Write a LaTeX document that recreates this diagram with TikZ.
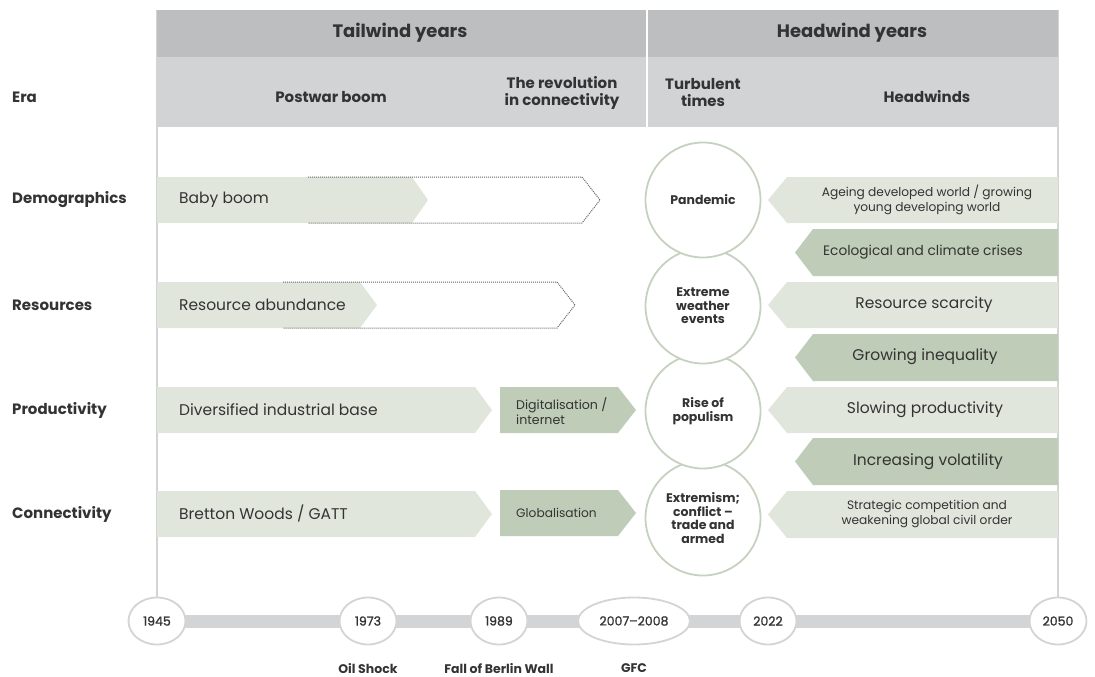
\documentclass[tikz,border=0pt]{standalone}
\usepackage{fontspec}
\setmainfont{Poppins}
\newfontfamily\yearfont{Poppins}[FakeBold=1.2, Ligatures=TeX]
\usetikzlibrary{positioning}
\usetikzlibrary{shapes.geometric}
\usetikzlibrary{backgrounds}

\definecolor{hdrdark}{HTML}{BDBEC0}
\definecolor{hdrlight}{HTML}{D1D3D4}
\definecolor{paleband}{HTML}{E1E6DD}
\definecolor{sageband}{HTML}{BFCDB8}
\definecolor{ringgreen}{HTML}{C6D2C0}
\definecolor{railgrey}{HTML}{D3D4D5}
\definecolor{inkgrey}{HTML}{333333}

\begin{document}
\begin{tikzpicture}[x=1pt,y=-1pt]
				\tikzset{bandhead/.style = {font=\fontsize{18}{20}\selectfont\bfseries, text=inkgrey}}
				\tikzset{rowlab/.style = {anchor=west, inner sep=0pt, font=\fontsize{15}{17}\selectfont\bfseries, text=inkgrey}}
				\tikzset{colhead/.style = {align=center, font=\fontsize{15}{17}\selectfont\bfseries, text=inkgrey}}
				\tikzset{armtext/.style = {align=center, font=\fontsize{15.5}{17}\selectfont, text=inkgrey}}
				\tikzset{armsmall/.style = {align=center, font=\fontsize{12.2}{14.5}\selectfont, text=inkgrey}}
				\tikzset{event/.style = {shape=circle, draw=ringgreen, fill=white, line width=1.8pt,
						minimum size=115pt, inner sep=0pt, align=center,
						font=\fontsize{12.5}{13.5}\selectfont\bfseries, text=inkgrey}}
				\tikzset{year/.style = {shape=ellipse, draw=railgrey, fill=white, line width=1.8pt,
						minimum width=57pt, minimum height=47pt, inner sep=0pt,
						font=\fontsize{12.5}{14}\yearfont, text=inkgrey}}
				\tikzset{yearlab/.style = {inner sep=1pt, font=\fontsize{12.5}{14}\selectfont\bfseries, text=inkgrey}}
				\tikzset{rim/.style = {draw=railgrey, line width=2pt}}
				\tikzset{faded/.style = {densely dotted, draw=black!60, line width=1pt}}
				
				\useasboundingbox (0,0) rectangle (1095,677);
				
				% header bands
				\fill[hdrdark] (157,10) rectangle (1058,57);
				\fill[hdrlight] (157,57) rectangle (1058,127);
				\draw[white, line width=2.5pt] (647,10) -- (647,127);
				\node[bandhead] (tailwind) at (400,33) {Tailwind years};
				\node[bandhead] (headwind) at (852,33) {Headwind years};
				\node[colhead] (postwar) at (331,97) {Postwar boom};
				\node[colhead] (revolution) at (562,93) {The revolution\\in connectivity};
				\node[colhead] (turbulent) at (703,93) {Turbulent\\times};
				\node[colhead] (headwinds) at (927,97) {Headwinds};
				
				% row labels
				\node[rowlab] (era) at (12,97) {Era};
				\node[rowlab] (demo) at (12,200) {Demographics};
				\node[rowlab] (reso) at (12,305) {Resources};
				\node[rowlab] (prod) at (12,410) {Productivity};
				\node[rowlab] (conn) at (12,514) {Connectivity};
				
				% tailwind arrows
				\fill[paleband] (157,177) -- (412,177) -- (428,200) -- (412,223) -- (157,223) -- cycle;
				\draw[faded] (308,177) -- (582,177) -- (600,200) -- (582,223) -- (308,223);
				\node[armtext, anchor=west, inner sep=0pt] (babyboom) at (179,200) {Baby boom};
				
				\fill[paleband] (157,282) -- (360,282) -- (377,305) -- (360,328) -- (157,328) -- cycle;
				\draw[faded] (283,282) -- (557,282) -- (575,305) -- (557,328) -- (283,328);
				\node[armtext, anchor=west, inner sep=0pt] (abundance) at (179,305) {Resource abundance};
				
				\fill[paleband] (157,387) -- (475,387) -- (492,410) -- (475,433) -- (157,433) -- cycle;
				\node[armtext, anchor=west, inner sep=0pt] (industry) at (179,410) {Diversified industrial base};
				\fill[sageband] (500,387) -- (618,387) -- (636,410) -- (618,433) -- (500,433) -- cycle;
				\node[armsmall, font=\fontsize{12.6}{14.5}\selectfont, align=left, anchor=west, inner sep=0pt] (digital) at (516,411) {Digitalisation /\\internet};
				
				\fill[paleband] (157,491) -- (475,491) -- (492,514) -- (475,537) -- (157,537) -- cycle;
				\node[armtext, anchor=west, inner sep=0pt] (bretton) at (179,514) {Bretton Woods / GATT};
				\fill[sageband] (500,490) -- (618,490) -- (636,513) -- (618,536) -- (500,536) -- cycle;
				\node[armsmall, anchor=west, inner sep=0pt] (global) at (516,513) {Globalisation};
				
				% headwind arrows
				\fill[paleband] (1058,177) -- (787,177) -- (768,200) -- (787,223) -- (1058,223) -- cycle;
				\node[armsmall] (ageing) at (927,200) {Ageing developed world / growing\\young developing world};
				\fill[sageband] (1058,229) -- (813,229) -- (795,252.5) -- (813,276) -- (1058,276) -- cycle;
				\node[armtext, font=\fontsize{13.7}{16}\selectfont] (ecology) at (923,252) {Ecological and climate crises};
				\fill[paleband] (1058,282) -- (787,282) -- (768,305) -- (787,328) -- (1058,328) -- cycle;
				\node[armtext] (scarcity) at (924,305) {Resource scarcity};
				\fill[sageband] (1058,334) -- (813,334) -- (795,357.5) -- (813,381) -- (1058,381) -- cycle;
				\node[armtext] (inequality) at (925,357) {Growing inequality};
				\fill[paleband] (1058,387) -- (787,387) -- (768,410) -- (787,433) -- (1058,433) -- cycle;
				\node[armtext] (slowing) at (925,410) {Slowing productivity};
				\fill[sageband] (1058,438) -- (813,438) -- (795,461.5) -- (813,485) -- (1058,485) -- cycle;
				\node[armtext] (volatility) at (928,462) {Increasing volatility};
				\fill[paleband] (1058,491) -- (787,491) -- (768,514.5) -- (787,538) -- (1058,538) -- cycle;
				\node[armsmall] (strategic) at (927,514) {Strategic competition and\\weakening global civil order};
				
				% turbulent events (lower ones first)
				\node[event] (extremism) at (703,518) {Extremism;\\conflict --\\trade and\\armed};
				\node[event] (populism) at (703,411) {Rise of\\populism};
				\node[event] (weather) at (703,306) {Extreme\\weather\\events};
				\node[event] (pandemic) at (703,200) {Pandemic};
				
				% timeline
				\node[year] (y1945) at (157,621) {1945};
				\node[year] (y1973) at (368,621) {1973};
				\node[year] (y1989) at (499,621) {1989};
				\node[year, minimum width=112pt] (y2007) at (634,621) {2007--2008};
				\node[year] (y2022) at (768,621) {2022};
				\node[year] (y2050) at (1058,621) {2050};
				
				\node[yearlab, below=17pt of y1973] (oil) {Oil Shock};
				\node[yearlab, below=17pt of y1989] (berlin) {Fall of Berlin Wall};
				\node[yearlab, below=17pt of y2007] (gfc) {GFC};
				
				\coordinate (lefttop) at (157,10);
				\coordinate (righttop) at (1058,10);
				
				%edges
				\begin{scope}[on background layer]
				\draw[railgrey, line width=13pt] (y1945.center) -- (y2050.center);
				\draw[rim] (lefttop) -- (y1945.north);
				\draw[rim] (righttop) -- (y2050.north);
				\end{scope}
				
\end{tikzpicture}
\end{document}
